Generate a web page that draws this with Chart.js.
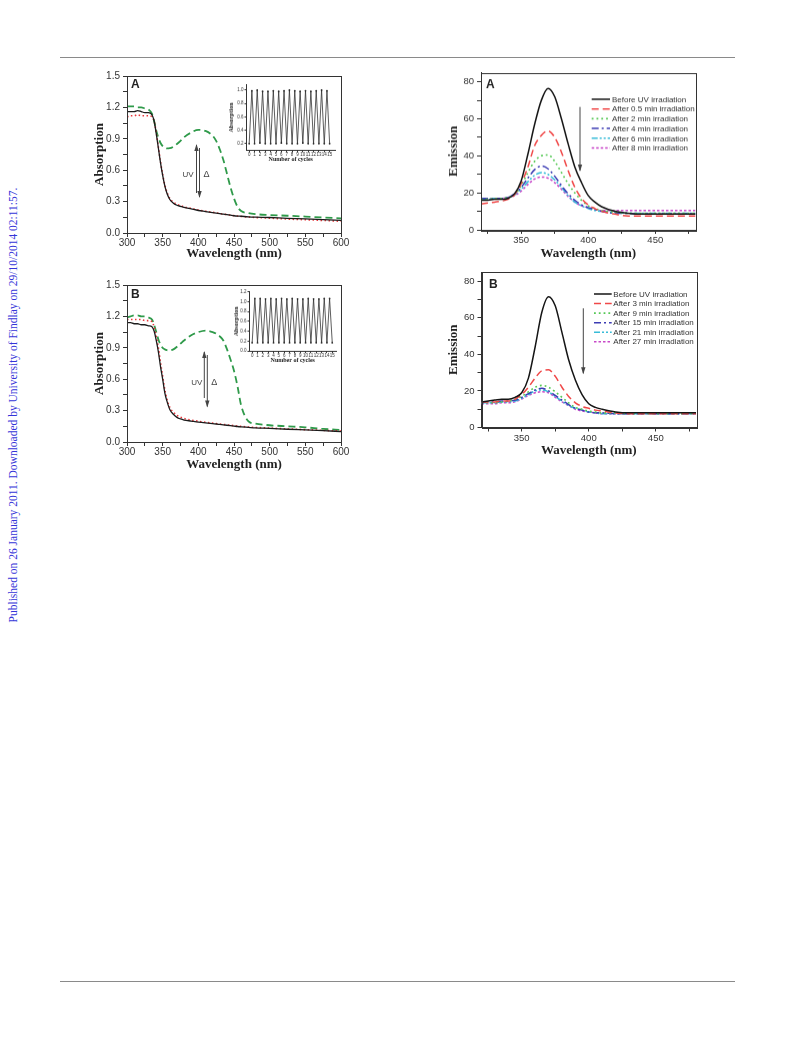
<!DOCTYPE html>
<html><head><meta charset="utf-8">
<script src="https://cdn.jsdelivr.net/npm/chart.js@4.4.0/dist/chart.umd.min.js"></script>
<style>
html,body{margin:0;padding:0;background:#fff;}
body{width:793px;height:1039px;position:relative;overflow:hidden;}
.cv{position:absolute;}
.rule{position:absolute;left:60px;width:675px;height:0;border-top:1px solid #8a8a8a;}
#side{position:absolute;left:-217px;top:398px;width:460px;text-align:center;white-space:nowrap;
 transform:rotate(-90deg);transform-origin:50% 50%;font:11.5px "Liberation Serif","DejaVu Serif",serif;color:#3434d8;line-height:14px;}
</style></head><body>
<div class="rule" style="top:57px"></div>
<div class="rule" style="top:981px"></div>
<div id="side">Published on 26 January 2011. Downloaded by University of Findlay on 29/10/2014 02:11:57.</div>
<script>
// ================= DATA =================
const absX = [300,305,310,315,320,325,330,335,338,341,344,347,350,353,356,360,365,370,375,380,390,400,410,420,425,430,435,440,445,450,455,460,470,480,500,525,550,575,600];
// Panel A (absorption)
const absA_before = [1.16,1.16,1.16,1.17,1.16,1.15,1.15,1.13,1.07,0.95,0.81,0.67,0.55,0.45,0.38,0.32,0.285,0.265,0.255,0.245,0.23,0.215,0.205,0.195,0.19,0.185,0.18,0.175,0.17,0.165,0.162,0.16,0.155,0.152,0.148,0.14,0.135,0.128,0.12];
const absA_heat   = [1.11,1.12,1.12,1.13,1.12,1.12,1.12,1.11,1.07,0.96,0.82,0.68,0.56,0.46,0.39,0.33,0.295,0.275,0.262,0.25,0.235,0.22,0.208,0.198,0.192,0.186,0.18,0.176,0.171,0.166,0.162,0.158,0.153,0.148,0.142,0.133,0.127,0.12,0.112];
const absA_uv     = [1.21,1.21,1.21,1.2,1.2,1.19,1.18,1.14,1.07,0.98,0.91,0.86,0.83,0.815,0.808,0.81,0.825,0.85,0.88,0.915,0.96,0.985,0.975,0.93,0.88,0.8,0.7,0.57,0.44,0.33,0.25,0.21,0.19,0.18,0.172,0.165,0.157,0.148,0.14];
// Panel B (absorption)
const absB_before = [1.14,1.14,1.13,1.13,1.12,1.12,1.11,1.10,1.06,0.97,0.86,0.72,0.60,0.47,0.39,0.31,0.265,0.235,0.22,0.21,0.2,0.19,0.182,0.175,0.172,0.168,0.164,0.16,0.156,0.152,0.148,0.145,0.14,0.135,0.13,0.122,0.115,0.108,0.1];
const absB_heat   = [1.17,1.17,1.17,1.17,1.17,1.16,1.16,1.15,1.1,1.01,0.9,0.76,0.63,0.5,0.41,0.33,0.285,0.255,0.238,0.225,0.21,0.198,0.188,0.18,0.176,0.172,0.168,0.164,0.16,0.156,0.152,0.149,0.144,0.139,0.133,0.125,0.118,0.111,0.105];
const absB_uv     = [1.19,1.2,1.21,1.21,1.2,1.2,1.19,1.17,1.12,1.05,0.98,0.93,0.9,0.885,0.877,0.875,0.885,0.91,0.94,0.97,1.02,1.05,1.065,1.05,1.035,1.01,0.97,0.89,0.79,0.68,0.53,0.35,0.2,0.175,0.16,0.15,0.14,0.125,0.115];
const absXTicks = [300,325,350,375,400,425,450,475,500,525,550,575,600];
const absXMajor = [300,350,400,450,500,550,600];
const absYTicks = [0,0.15,0.3,0.45,0.6,0.75,0.9,1.05,1.2,1.35,1.5];
const absYMajor = [0,0.3,0.6,0.9,1.2,1.5];

// Insets (cycles)
const cycX = [0,0.5,1,1.5,2,2.5,3,3.5,4,4.5,5,5.5,6,6.5,7,7.5,8,8.5,9,9.5,10,10.5,11,11.5,12,12.5,13,13.5,14,14.5,15];
const cycA = [0.2,0.99,0.2,1.0,0.21,0.98,0.2,0.98,0.2,0.99,0.2,0.98,0.21,0.99,0.2,1.0,0.2,0.99,0.2,0.98,0.21,0.99,0.2,0.98,0.2,0.99,0.2,1.0,0.2,0.99,0.2];
const cycB = [0.17,1.06,0.17,1.06,0.17,1.05,0.17,1.06,0.17,1.05,0.17,1.06,0.17,1.05,0.17,1.06,0.17,1.05,0.17,1.05,0.17,1.06,0.17,1.05,0.17,1.05,0.17,1.06,0.17,1.06,0.17];
const cycXTicks = [0,1,2,3,4,5,6,7,8,9,10,11,12,13,14,15];
const cycAYTicks = [0.2,0.4,0.6,0.8,1.0];
const cycBYTicks = [0,0.2,0.4,0.6,0.8,1.0,1.2];

// Emission
const emX = [320,325,330,335,340,345,350,355,360,365,370,375,380,385,390,395,400,405,410,420,430,440,450,460,470,480];
const emA_labels = ['Before UV irradiation','After 0.5 min irradiation','After 2 min irradiation','After 4 min irradiation','After 6 min irradiation','After 8 min irradiation'];
const emA_0   = [16,16,16.5,16.5,17,19.5,26.5,41,57,70,76.5,72,60,46.5,34,25.5,18.5,15,12.5,10,9,8.5,8.5,8.5,8.5,8.5];
const emA_05  = [14,14.5,15,15.5,16.5,19,25,34,45.5,51,53.5,50,42,32,23,17,13.5,11.5,10,8.5,7.5,7.5,7.5,7.5,7.5,7.5];
const emA_2   = [16.5,16.5,17,17,17.5,19,24,31,37,40,40.5,37,31,25,20,16,13,11.5,10.5,9.5,9,9,9,9,9,9];
const emA_4   = [17,17,17,17,17.5,19.5,23,28,32.5,34.5,33,29,24,19.5,16,13.5,12,11,10,9,9,8.5,8.5,8.5,8.5,8.5];
const emA_6   = [16.5,16.5,17,17,17.5,19,22,26,29.5,31,30,27,23,18.5,15,13,11.5,10.5,10,9.5,9,9,9,9,9,9];
const emA_8   = [17,17,17,17,17.5,18.5,21,24.5,27.5,28.5,28,25.5,22,18,15,13,12,11,10.5,10.5,10.5,10.5,10.5,10.5,10.5,10.5];
const emB_labels = ['Before UV irradiation','After 3 min irradiation','After 9 min irradiation','After 15 min irradiation','After 21 min irradiation','After 27 min irradiation'];
const emB_0   = [14,14.5,15,15.5,15.5,16.5,19,27,44,63,71.5,66.5,52,37,26,18,13,11,10,8.5,8,8,8,8,8,8];
const emB_3   = [14,14,14,14.5,14.5,15.5,18,22,27,31,31.5,28,22,17,13.5,11.5,10.5,9.5,9,8,7.5,7.5,7.5,7.5,7.5,7.5];
const emB_9   = [13.5,13.5,13.5,14,14.5,15.5,17,19.5,22,23,22,19.5,16.5,13.5,11,10,9,8.5,8,8,7.5,7.5,7.5,7.5,7.5,7.5];
const emB_15  = [14,14,14,14.5,14.5,15,16.5,18.5,20.5,21.5,20,17.5,15,12.5,10.5,9.5,8.5,8,8,7.5,7.5,7.5,7.5,7.5,7.5,7.5];
const emB_21  = [13.5,13.5,13.5,14,14,14.5,16,18,20,20.5,19.5,17,14.5,12,10.5,9.5,8.5,8,7.5,7.5,7.5,7.5,7.5,7.5,7.5,7.5];
const emB_27  = [13,13,13,13.5,13.5,14,15.5,17.5,19,19.5,19,16.5,14,12,10,9,8.5,8,7.5,7.5,7.5,7.5,7.5,7.5,7.5,7.5];
const emXTicks = [325,350,375,400,425,450,475];
const emXMajor = [350,400,450];
const emYTicks = [0,10,20,30,40,50,60,70,80];
const emYMajor = [0,20,40,60,80];

// ================= STYLES =================
const SANS = '"Liberation Sans", Arial, sans-serif';
const SERIF = '"Liberation Serif", "Times New Roman", serif';
const AXC = '#333';
const absStyles = [
  {color:'#1c1c1c', width:1.3, dash:[]},
  {color:'#e8383d', width:1.6, dash:[1.5,2.5]},
  {color:'#2f9a4a', width:1.8, dash:[7,4]}
];
const emStyles = [
  {color:'#151515', width:1.5, dash:[]},
  {color:'#f04848', width:1.5, dash:[7,4]},
  {color:'#55c855', width:1.6, dash:[1.8,3]},
  {color:'#3c3cb4', width:1.5, dash:[7,3,2,3]},
  {color:'#38bcd8', width:1.5, dash:[6,2,2,2,2,2]},
  {color:'#c848c8', width:1.5, dash:[2.5,2]}
];

function ds(xs, ys, st, label, extra) {
  return Object.assign({
    label: label || '',
    data: xs.map((x,i)=>({x:x, y:ys[i]})),
    borderColor: st.color, borderWidth: st.width, borderDash: st.dash,
    pointRadius: 0, fill: false, cubicInterpolationMode: 'monotone'
  }, extra || {});
}
function isMajor(list, v){ return list.some(m=>Math.abs(m-v)<1e-9); }

function decoPlugin(box, spec){
  return {
    id: 'deco',
    afterDraw(chart){
      const ctx = chart.ctx, a = chart.chartArea;
      ctx.save();
      if (spec.frame){
        ctx.strokeStyle = AXC; ctx.lineWidth = 1; ctx.setLineDash([]);
        ctx.strokeRect(Math.round(a.left)+0.5, Math.round(a.top)+0.5, Math.round(a.right-a.left), Math.round(a.bottom-a.top));
      }
      (spec.texts||[]).forEach(t=>{
        ctx.font = t.font; ctx.fillStyle = t.color || '#222';
        ctx.textAlign = t.align || 'left'; ctx.textBaseline = 'middle';
        ctx.fillText(t.text, t.x - box.l, t.y - box.t);
      });
      (spec.arrows||[]).forEach(ar=>{
        const x = ar.x - box.l, y1 = ar.y1 - box.t, y2 = ar.y2 - box.t;
        ctx.strokeStyle = ar.color || '#444'; ctx.fillStyle = ar.color || '#444';
        ctx.lineWidth = 1; ctx.setLineDash([]);
        ctx.beginPath(); ctx.moveTo(x, y1); ctx.lineTo(x, y2); ctx.stroke();
        const hy = ar.up ? y1 : y2, s = ar.up ? 1 : -1;
        ctx.beginPath(); ctx.moveTo(x, hy - s*1); ctx.lineTo(x-2.2, hy + s*6); ctx.lineTo(x+2.2, hy + s*6); ctx.closePath(); ctx.fill();
      });
      if (spec.legend){
        const L = spec.legend;
        chart.data.datasets.forEach((d,i)=>{
          const y = L.y0 + L.dy*i - box.t;
          ctx.strokeStyle = d.borderColor; ctx.lineWidth = d.borderWidth; ctx.setLineDash(d.borderDash||[]);
          ctx.beginPath(); ctx.moveTo(L.x1 - box.l, y); ctx.lineTo(L.x2 - box.l, y); ctx.stroke();
          ctx.setLineDash([]);
          ctx.font = L.font; ctx.fillStyle = '#333'; ctx.textAlign = 'left'; ctx.textBaseline = 'middle';
          ctx.fillText(d.label, L.tx - box.l, y + 0.5);
        });
      }
      ctx.restore();
    }
  };
}

function makeChart(box, area, datasets, ax, ay, spec){
  const cv = document.createElement('canvas');
  cv.className = 'cv';
  cv.width = box.w; cv.height = box.h;
  cv.style.left = box.l + 'px'; cv.style.top = box.t + 'px';
  cv.style.width = box.w + 'px'; cv.style.height = box.h + 'px';
  document.body.appendChild(cv);
  const scaleCommon = (s, isX) => ({
    type: 'linear', min: s.min, max: s.max,
    afterBuildTicks(sc){ sc.ticks = s.ticks.map(v=>({value:v})); },
    afterFit(sc){ if (isX) sc.height = box.t + box.h - area.b; else sc.width = area.l - box.l; },
    ticks: {
      autoSkip: false, maxRotation: 0, minRotation: 0, padding: s.pad,
      color: '#333', font: {family: SANS, size: s.fs},
      callback: (v)=> isMajor(s.major, v) ? s.fmt(v) : ''
    },
    grid: {drawOnChartArea: false, drawTicks: true, tickLength: s.tl, color: AXC, lineWidth: 1},
    border: {display: true, color: AXC, width: 1},
    title: {display: !!s.title, text: s.title, color: '#222', padding: 0,
            font: {family: SERIF, size: s.tfs, weight: 'bold', lineHeight: 1.2}}
  });
  return new Chart(cv, {
    type: 'line',
    data: {datasets: datasets},
    options: {
      responsive: false, animation: false, devicePixelRatio: 1,
      layout: {padding: {left: 0, top: area.t - box.t, right: box.l + box.w - area.r, bottom: 0}},
      plugins: {legend: {display: false}, tooltip: {enabled: false}},
      scales: {x: scaleCommon(ax, true), y: scaleCommon(ay, false)}
    },
    plugins: [decoPlugin(box, spec)]
  });
}

const f1 = v => v.toFixed(1);
const f0 = v => String(Math.round(v));

// ---------- Absorption A ----------
makeChart({l:92, t:60, w:268, h:201}, {l:127, t:76, r:341, b:233},
  [ds(absX, absA_before, absStyles[0]), ds(absX, absA_heat, absStyles[1]), ds(absX, absA_uv, absStyles[2])],
  {min:300, max:600, ticks:absXTicks, major:absXMajor, fmt:f0, fs:10, pad:0, tl:4, title:'Wavelength (nm)', tfs:13},
  {min:0, max:1.5, ticks:absYTicks, major:absYMajor, fmt:f1, fs:10, pad:3, tl:4, title:'Absorption', tfs:13},
  {frame:true,
   texts:[{text:'A', x:131, y:85, font:'bold 12px '+SANS},
          {text:'UV', x:188, y:174.5, font:'8px '+SANS, color:'#444', align:'center'},
          {text:'Δ', x:206.5, y:174.5, font:'9px '+SANS, color:'#444', align:'center'}],
   arrows:[{x:196.5, y1:145, y2:193, up:true}, {x:199.5, y1:148, y2:197, up:false}]});

// ---------- Absorption B ----------
makeChart({l:92, t:270, w:268, h:202}, {l:127, t:285, r:341, b:442},
  [ds(absX, absB_before, absStyles[0]), ds(absX, absB_heat, absStyles[1]), ds(absX, absB_uv, absStyles[2])],
  {min:300, max:600, ticks:absXTicks, major:absXMajor, fmt:f0, fs:10, pad:0, tl:4, title:'Wavelength (nm)', tfs:13},
  {min:0, max:1.5, ticks:absYTicks, major:absYMajor, fmt:f1, fs:10, pad:3, tl:4, title:'Absorption', tfs:13},
  {frame:true,
   texts:[{text:'B', x:131, y:294.5, font:'bold 12px '+SANS},
          {text:'UV', x:196.7, y:382.7, font:'8px '+SANS, color:'#444', align:'center'},
          {text:'Δ', x:214.3, y:382.7, font:'9px '+SANS, color:'#444', align:'center'}],
   arrows:[{x:204.3, y1:352, y2:398, up:true}, {x:207.3, y1:355, y2:406.5, up:false}]});

// ---------- Inset A ----------
makeChart({l:228, t:78, w:112, h:84.6}, {l:246.5, t:84.6, r:335, b:150},
  [ds(cycX, cycA, {color:'#333', width:0.8, dash:[]}, '', {cubicInterpolationMode:'default', tension:0, pointRadius:0.9, pointBackgroundColor:'#222', pointBorderWidth:0})],
  {min:-0.5, max:16, ticks:cycXTicks, major:cycXTicks, fmt:f0, fs:4.5, pad:0, tl:2, title:'Number of cycles', tfs:6},
  {min:0.1, max:1.08, ticks:cycAYTicks, major:cycAYTicks, fmt:f1, fs:4.5, pad:1, tl:2, title:'Absorption', tfs:6},
  {frame:false});

// ---------- Inset B ----------
makeChart({l:233, t:286, w:107, h:77.6}, {l:249.5, t:291.5, r:337, b:350.8},
  [ds(cycX, cycB, {color:'#333', width:0.8, dash:[]}, '', {cubicInterpolationMode:'default', tension:0, pointRadius:0.9, pointBackgroundColor:'#222', pointBorderWidth:0})],
  {min:-0.5, max:15.7, ticks:cycXTicks, major:cycXTicks, fmt:f0, fs:4.5, pad:0, tl:2, title:'Number of cycles', tfs:6},
  {min:0, max:1.2, ticks:cycBYTicks, major:cycBYTicks, fmt:f1, fs:4.5, pad:1, tl:2, title:'Absorption', tfs:6},
  {frame:false});

// ---------- Emission A ----------
makeChart({l:446, t:60, w:294, h:200.5}, {l:481, t:72.5, r:695.5, b:229.5},
  [ds(emX, emA_0, emStyles[0], emA_labels[0]), ds(emX, emA_05, emStyles[1], emA_labels[1]), ds(emX, emA_2, emStyles[2], emA_labels[2]),
   ds(emX, emA_4, emStyles[3], emA_labels[3]), ds(emX, emA_6, emStyles[4], emA_labels[4]), ds(emX, emA_8, emStyles[5], emA_labels[5])],
  {min:320, max:480, ticks:emXTicks, major:emXMajor, fmt:f0, fs:9.5, pad:1, tl:4, title:'Wavelength (nm)', tfs:13},
  {min:0, max:85, ticks:emYTicks, major:emYMajor, fmt:f0, fs:9.5, pad:3, tl:4, title:'Emission', tfs:13},
  {frame:true,
   texts:[{text:'A', x:486, y:85, font:'bold 12px '+SANS}],
   arrows:[{x:580, y1:106.7, y2:170, up:false}],
   legend:{x1:591.7, x2:610, tx:612, y0:99, dy:9.7, font:'8px '+SANS}});

// ---------- Emission B ----------
makeChart({l:446, t:262, w:294, h:196}, {l:481.5, t:272, r:696, b:427.5},
  [ds(emX, emB_0, emStyles[0], emB_labels[0]), ds(emX, emB_3, emStyles[1], emB_labels[1]), ds(emX, emB_9, emStyles[2], emB_labels[2]),
   ds(emX, emB_15, emStyles[3], emB_labels[3]), ds(emX, emB_21, emStyles[4], emB_labels[4]), ds(emX, emB_27, emStyles[5], emB_labels[5])],
  {min:320, max:480, ticks:emXTicks, major:emXMajor, fmt:f0, fs:9.5, pad:1, tl:4, title:'Wavelength (nm)', tfs:13},
  {min:0, max:85, ticks:emYTicks, major:emYMajor, fmt:f0, fs:9.5, pad:3, tl:4, title:'Emission', tfs:13},
  {frame:true,
   texts:[{text:'B', x:489, y:284.7, font:'bold 12px '+SANS}],
   arrows:[{x:583.3, y1:308.3, y2:373.3, up:false}],
   legend:{x1:594, x2:611.7, tx:613.3, y0:294, dy:9.55, font:'8px '+SANS}});
</script>
</body></html>
